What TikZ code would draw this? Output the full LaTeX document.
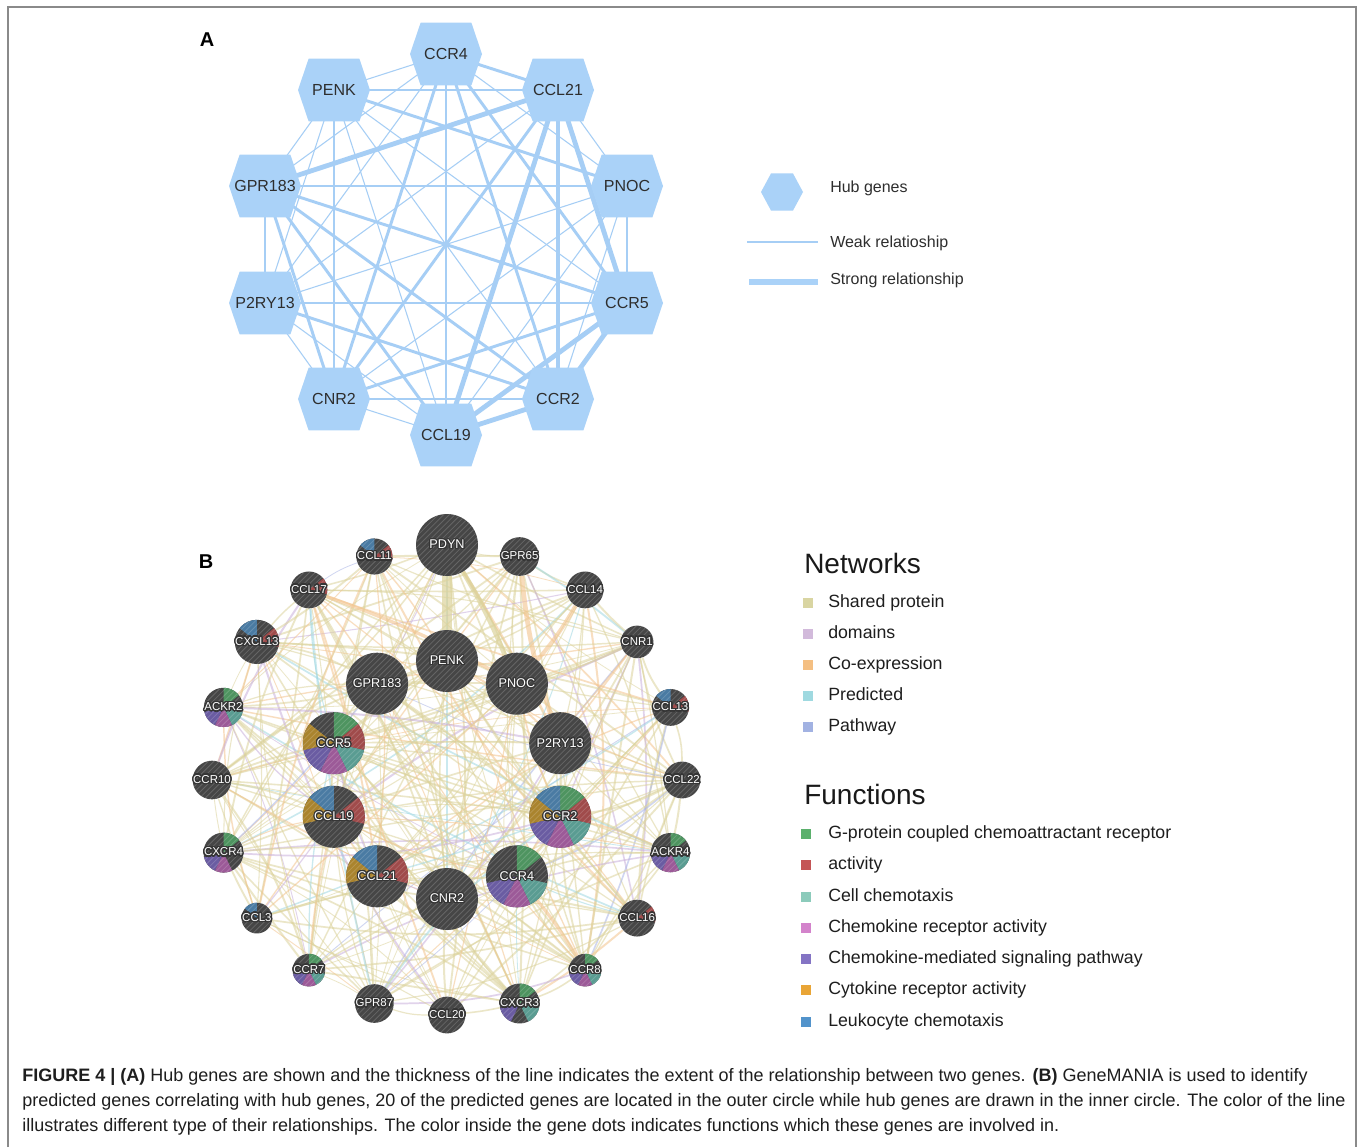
\documentclass[tikz,border=0pt]{standalone}
\usepackage{fontspec}
\setmainfont{Liberation Sans}
\usepackage{contour}
\contourlength{0.8pt}
\usetikzlibrary{backgrounds,calc}

\definecolor{hexblue}{HTML}{AAD2F8}
\definecolor{edgeblue}{HTML}{A6CEF5}
\definecolor{txtA}{HTML}{2E2E2E}
\definecolor{framegray}{HTML}{8A8A8A}
\definecolor{nodedark}{HTML}{464646}
\definecolor{halo}{HTML}{353535}
\definecolor{captxt}{HTML}{1E1E1E}
% function colours inside nodes
\definecolor{fc0}{HTML}{4E9460}
\definecolor{fc1}{HTML}{A04B4B}
\definecolor{fc2}{HTML}{5A9C92}
\definecolor{fc3}{HTML}{9C5A98}
\definecolor{fc4}{HTML}{6A5CA2}
\definecolor{fc5}{HTML}{AA842E}
\definecolor{fc6}{HTML}{4A7BA3}
% legend colours
\definecolor{ln0}{HTML}{D9D5A2}
\definecolor{ln1}{HTML}{D2BADB}
\definecolor{ln2}{HTML}{F4BF82}
\definecolor{ln3}{HTML}{9FD9E0}
\definecolor{ln4}{HTML}{A2B2E2}
\definecolor{lf0}{HTML}{5BB06C}
\definecolor{lf1}{HTML}{C45556}
\definecolor{lf2}{HTML}{8CCBBB}
\definecolor{lf3}{HTML}{D383CB}
\definecolor{lf4}{HTML}{8474C4}
\definecolor{lf5}{HTML}{E9A536}
\definecolor{lf6}{HTML}{5293CB}
% edge colours panel B
\definecolor{e0}{HTML}{DCD39C}
\definecolor{e1}{HTML}{C9B0DC}
\definecolor{e2}{HTML}{F3C48E}
\definecolor{e3}{HTML}{A0D8E2}
\definecolor{e4}{HTML}{AAB5E6}

\newcommand\bhatch{\foreach \hd in {-37.8,-33.6,...,38}{\draw[white,opacity=0.17,line width=0.6pt] ($(path picture bounding box.center)+(\hd pt,0pt)+(-30pt,-30pt)$) -- ++(60pt,60pt);}}

\tikzset{
  hexA/.style={minimum width=56pt,minimum height=49pt,inner sep=0pt,text=txtA,
    font=\fontsize{12}{14}\selectfont,
    path picture={\fill[hexblue] ($(path picture bounding box.center)+(-27pt,0pt)$) -- ++(8pt,23.6pt) -- ++(38pt,0pt) -- ++(8pt,-23.6pt) -- ++(-8pt,-23.6pt) -- ++(-38pt,0pt) -- cycle;}},
  hexL/.style={minimum width=33pt,minimum height=29pt,inner sep=0pt,
    path picture={\fill[hexblue] ($(path picture bounding box.center)+(-15.75pt,0pt)$) -- ++(7.5pt,13.9pt) -- ++(16.5pt,0pt) -- ++(7.5pt,-13.9pt) -- ++(-7.5pt,-13.9pt) -- ++(-16.5pt,0pt) -- cycle;}},
  wk/.style={edgeblue,line width=0.8pt},
  md/.style={edgeblue,line width=2.2pt},
  tk/.style={edgeblue,line width=3.6pt},
  bnode/.style={circle,fill=nodedark,inner sep=0pt,text=white},
  big/.style={bnode,minimum size=46.5pt,font=\fontsize{9.5}{10}\selectfont},
  small/.style={bnode,minimum size=17.25pt,font=\fontsize{8.6}{9}\selectfont\contourlength{1.05pt}},
  plain/.style={path picture={\bhatch}},
  pie/.style={path picture={\foreach \k in {#1}{\fill[fc\k] (path picture bounding box.center) -- ++({90-\k*360/7}:40pt) arc[start angle={90-\k*360/7},delta angle={-360/7},radius=40pt] -- cycle;}\bhatch}},
  lbl/.style={anchor=west,text=txtA,font=\fontsize{12}{14}\selectfont,inner sep=0pt,text height=1.5ex,text depth=.3ex},
  lgt/.style={anchor=west,text=captxt,font=\fontsize{13.3}{15}\selectfont,inner sep=0pt,text height=1.5ex,text depth=.3ex},
  lgh/.style={anchor=west,text=black!90,font=\fontsize{21}{24}\selectfont,inner sep=0pt,text height=1.5ex,text depth=.3ex},
  sq/.style={minimum size=7.5pt,inner sep=0pt},
  capline/.style={anchor=west,text=captxt,font=\fontsize{13.5}{15}\selectfont,inner sep=0pt,text height=1.5ex,text depth=.3ex},
  panel/.style={font=\fontsize{15}{17}\selectfont\bfseries,text=black,inner sep=0pt},
}

\begin{document}
\begin{tikzpicture}[x=0.75pt,y=-0.75pt]
\path[use as bounding box] (0,0) rectangle (1360,1147);

% ---------------- panel A ----------------
\node[panel] (labA) at (207,40) {A};
\node[hexA] (a-CCR4) at (446,54) {CCR4};
\node[hexA] (a-CCL21) at (558,90) {CCL21};
\node[hexA] (a-PNOC) at (627,186) {PNOC};
\node[hexA] (a-CCR5) at (627,303) {CCR5};
\node[hexA] (a-CCR2) at (558,399) {CCR2};
\node[hexA] (a-CCL19) at (446,435) {CCL19};
\node[hexA] (a-CNR2) at (334,399) {CNR2};
\node[hexA] (a-P2RY13) at (265,303) {P2RY13};
\node[hexA] (a-GPR183) at (265,186) {GPR183};
\node[hexA] (a-PENK) at (334,90) {PENK};

% legend A
\node[hexL] (lA-hex) at (782,192) {};
\node[lbl] (lA-t1) at (830,188) {Hub genes};
\coordinate (lA-w1) at (747,242);
\coordinate (lA-w2) at (818,242);
\node[lbl] (lA-t2) at (830,243) {Weak relatioship};
\coordinate (lA-s1) at (749,282);
\coordinate (lA-s2) at (818,282);
\node[lbl] (lA-t3) at (830,280) {Strong relationship};
\draw[edgeblue,line width=0.9pt] (lA-w1) -- (lA-w2);
\draw[hexblue,line width=4.5pt] (lA-s1) -- (lA-s2);

% ---------------- panel B ----------------
\node[panel] (labB) at (206,562) {B};
% outer ring
\node[big,plain] (b-PDYN) at (447,545) {\contour{halo}{PDYN}};
\node[small,plain] (b-GPR65) at (519.6,556.5) {\contour{halo}{GPR65}};
\node[small,plain] (b-CCL14) at (585.1,589.9) {\contour{halo}{CCL14}};
\node[small,plain] (b-CNR1) at (637.1,641.9) {\contour{halo}{CNR1}};
\node[small,pie={1,6}] (b-CCL13) at (670.5,707.4) {\contour{halo}{CCL13}};
\node[small,plain] (b-CCL22) at (682,780) {\contour{halo}{CCL22}};
\node[small,pie={0,2,3,4}] (b-ACKR4) at (670.5,852.6) {\contour{halo}{ACKR4}};
\node[small,pie={1}] (b-CCL16) at (637.1,918.1) {\contour{halo}{CCL16}};
\node[small,pie={0,2,3,4}] (b-CCR8) at (585.1,970.1) {\contour{halo}{CCR8}};
\node[small,pie={0,2,4}] (b-CXCR3) at (519.6,1003.5) {\contour{halo}{CXCR3}};
\node[small,plain] (b-CCL20) at (447,1015) {\contour{halo}{CCL20}};
\node[small,plain] (b-GPR87) at (374.4,1003.5) {\contour{halo}{GPR87}};
\node[small,pie={0,2,3,4}] (b-CCR7) at (308.9,970.1) {\contour{halo}{CCR7}};
\node[small,pie={6}] (b-CCL3) at (256.9,918.1) {\contour{halo}{CCL3}};
\node[small,pie={0,3,4}] (b-CXCR4) at (223.5,852.6) {\contour{halo}{CXCR4}};
\node[small,plain] (b-CCR10) at (212,780) {\contour{halo}{CCR10}};
\node[small,pie={0,2,3,4}] (b-ACKR2) at (223.5,707.4) {\contour{halo}{ACKR2}};
\node[small,pie={1,6}] (b-CXCL13) at (256.9,641.9) {\contour{halo}{CXCL13}};
\node[small,pie={1}] (b-CCL17) at (308.9,589.9) {\contour{halo}{CCL17}};
\node[small,pie={1,6}] (b-CCL11) at (374.4,556.5) {\contour{halo}{CCL11}};
% inner ring
\node[big,plain] (b-PENK) at (447,661) {\contour{halo}{PENK}};
\node[big,plain] (b-PNOC) at (516.9,683.7) {\contour{halo}{PNOC}};
\node[big,plain] (b-P2RY13) at (560.2,743.2) {\contour{halo}{P2RY13}};
\node[big,pie={0,1,2,3,4,5,6}] (b-CCR2) at (560.2,816.8) {\contour{halo}{CCR2}};
\node[big,pie={0,2,3,4}] (b-CCR4) at (516.9,876.3) {\contour{halo}{CCR4}};
\node[big,plain] (b-CNR2) at (447,899) {\contour{halo}{CNR2}};
\node[big,pie={1,5,6}] (b-CCL21) at (377.1,876.3) {\contour{halo}{CCL21}};
\node[big,pie={1,5,6}] (b-CCL19) at (333.8,816.8) {\contour{halo}{CCL19}};
\node[big,pie={0,1,2,3,4,5}] (b-CCR5) at (333.8,743.2) {\contour{halo}{CCR5}};
\node[big,plain] (b-GPR183) at (377.1,683.7) {\contour{halo}{GPR183}};

% legend B
\node[lgh] (nw-h) at (804,569) {Networks};
\foreach \c/\t/\y [count=\i] in {ln0/Shared protein/603, ln1/domains/634, ln2/Co-expression/665, ln3/Predicted/696, ln4/Pathway/727}{
  \node[sq,fill=\c] (nw-s\i) at (808,\y) {};
  \node[lgt] (nw-t\i) at (828,\y) {\t};
}
\node[lgh] (fn-h) at (804,800) {Functions};
\foreach \c/\t/\y [count=\i] in {lf0/G-protein coupled chemoattractant receptor/834, lf1/activity/865, lf2/Cell chemotaxis/897, lf3/Chemokine receptor activity/928, lf4/Chemokine-mediated signaling pathway/959, lf5/Cytokine receptor activity/990, lf6/Leukocyte chemotaxis/1022}{
  \node[sq,fill=\c] (fn-s\i) at (806,\y) {};
  \node[lgt] (fn-t\i) at (828,\y) {\t};
}

% caption
\node[capline] (cap1) at (22,1077) {\textbf{FIGURE 4 | (A)} Hub genes are shown and the thickness of the line indicates the extent of the relationship between two genes. \textbf{(B)} GeneMANIA is used to identify};
\node[capline] (cap2) at (22,1102) {predicted genes correlating with hub genes, 20 of the predicted genes are located in the outer circle while hub genes are drawn in the inner circle. The color of the line};
\node[capline] (cap3) at (22,1127) {illustrates different type of their relationships. The color inside the gene dots indicates functions which these genes are involved in.};

% ---------------- edges (behind) ----------------
\begin{scope}[on background layer]
\fill[white] (0,0) rectangle (1360,1147);
\draw[framegray,line width=1.1pt] (8,1147) -- (8,7) -- (1356,7) -- (1356,1147);
% panel A
\foreach \u/\v in {CCR4/PNOC,CCR4/PENK,CCR4/GPR183,CCR4/P2RY13,CCL21/PNOC,CCL21/P2RY13,PNOC/CCR2,PNOC/CCL19,PNOC/CNR2,PNOC/P2RY13,PNOC/GPR183,CCR5/PENK,CCR2/PENK,CCL19/CNR2,CCL19/P2RY13,CCL19/PENK,CNR2/P2RY13,GPR183/PENK,P2RY13/PENK}
  \draw[wk] (a-\u.center) -- (a-\v.center);
\foreach \u/\v in {CCR4/CCL21,CCR4/CCL19,CCR4/CCR2,CCR4/CCR5,CCR4/CNR2,GPR183/CCR5,PENK/PNOC,PENK/CNR2,GPR183/P2RY13,GPR183/CNR2,GPR183/CCL19,GPR183/CCR2,P2RY13/CCR5,P2RY13/CCR2,PNOC/CCR5,CCR5/CNR2,CCR2/CNR2,CCL21/CNR2,CCL21/PENK}
  \draw[md] (a-\u.center) -- (a-\v.center);
\foreach \u/\v in {CCL21/GPR183,CCL21/CCL19,CCL21/CCR2,CCL21/CCR5,CCR5/CCL19,CCR5/CCR2,CCR2/CCL19}
  \draw[tk] (a-\u.center) -- (a-\v.center);
% panel B
\pgfmathsetseed{11}
\def\allB{PDYN,GPR65,CCL14,CNR1,CCL13,CCL22,ACKR4,CCL16,CCR8,CXCR3,CCL20,GPR87,CCR7,CCL3,CXCR4,CCR10,ACKR2,CXCL13,CCL17,CCL11,PENK,PNOC,P2RY13,CCR2,CCR4,CNR2,CCL21,CCL19,CCR5,GPR183}
\foreach \u [count=\i] in \allB {
  \foreach \v [count=\j] in \allB {
    \ifnum\j>\i
      \pgfmathrandominteger{\rr}{0}{99}
      \ifnum\rr<72
        \pgfmathrandominteger{\cc}{0}{99}
        \pgfmathrandominteger{\bb}{-9}{9}
        \pgfmathrandominteger{\ww}{6}{15}
        \ifnum\cc<72 \def\ec{e0}\else\ifnum\cc<85 \def\ec{e2}\else\ifnum\cc<93 \def\ec{e1}\else\ifnum\cc<97 \def\ec{e3}\else\def\ec{e4}\fi\fi\fi\fi
        \draw[\ec,line width=\ww*0.1pt,opacity=0.55] (b-\u) to[bend left=\bb] (b-\v);
      \fi
    \fi
  }
}
\draw[e0,line width=7pt,opacity=0.7] (b-PDYN) -- (b-PENK);
\draw[e0,line width=3.5pt,opacity=0.7] (b-PDYN) to[bend left=4] (b-PNOC);
\draw[e2,line width=3.5pt,opacity=0.6] (b-GPR65) to[bend right=6] (b-P2RY13);
\draw[e2,line width=3pt,opacity=0.6] (b-CCL14) to[bend left=5] (b-PNOC);
\draw[e2,line width=2.5pt,opacity=0.6] (b-CCL17) to[bend left=4] (b-PNOC);
\draw[e2,line width=2.5pt,opacity=0.6] (b-CCR4) to[bend left=4] (b-CCR8);
\end{scope}
\end{tikzpicture}
\end{document}
